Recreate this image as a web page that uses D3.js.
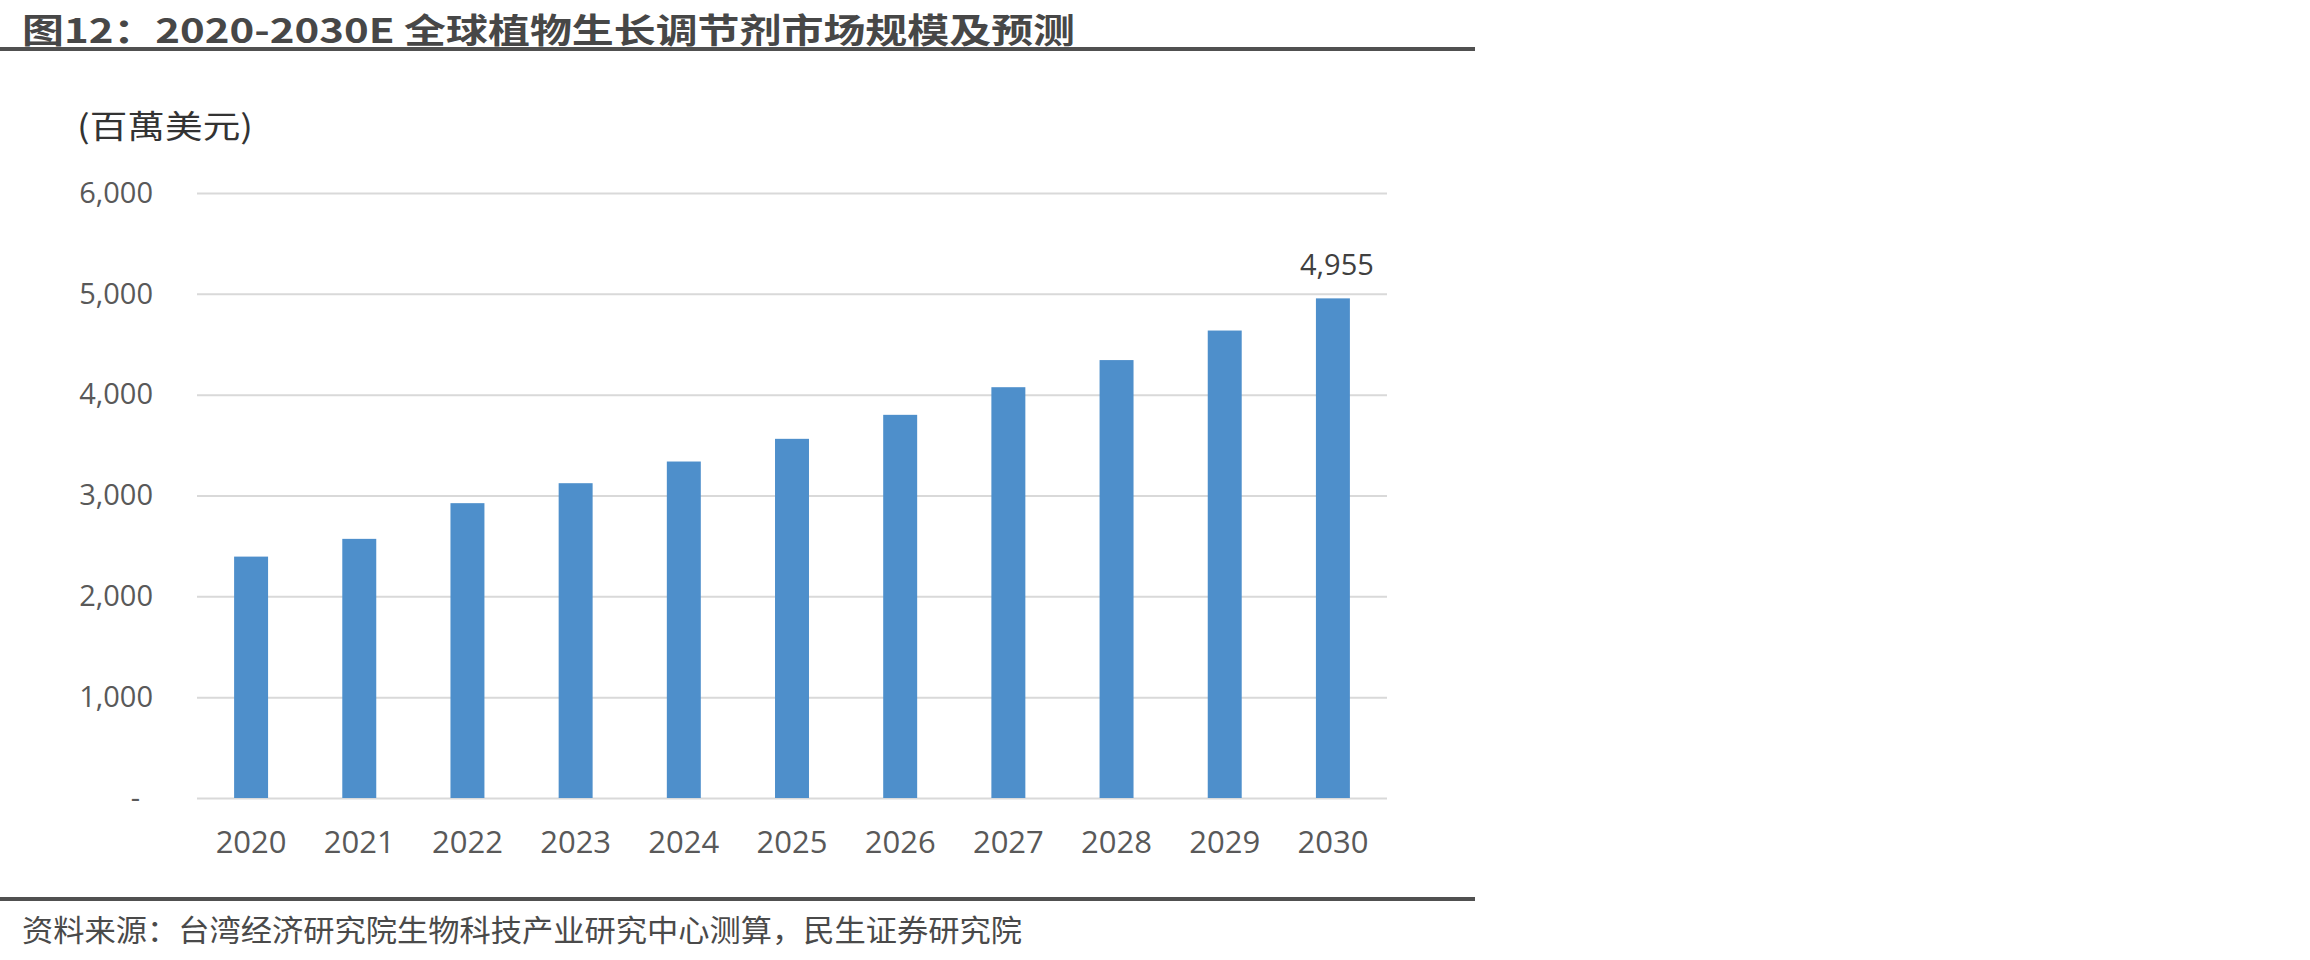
<!DOCTYPE html>
<html>
<head>
<meta charset="utf-8">
<script src="https://cdn.jsdelivr.net/npm/d3@7"></script>
<style>
  html, body { margin: 0; padding: 0; background: #fff; }
  svg { display: block; }
</style>
</head>
<body>
<svg id="chart" width="2310" height="960"></svg>
<script>
// ---- Data ----
const categories = ["2020","2021","2022","2023","2024","2025","2026","2027","2028","2029","2030"];
const values = [2394, 2570, 2924, 3122, 3337, 3562, 3800, 4074, 4343, 4636, 4955];
const yTicks = [0, 1000, 2000, 3000, 4000, 5000, 6000];
const labeledCategories = ["2030"];
const titleText = "图12：2020-2030E 全球植物生长调节剂市场规模及预测";
const unitText = "(百萬美元)";
const sourceText = "资料来源：台湾经济研究院生物科技产业研究中心测算，民生证券研究院";

const svg = d3.select("#chart");
svg.append("rect").attr("width", 2310).attr("height", 960).attr("fill", "#fff");

const CJK = "'Noto Sans CJK SC', 'Noto Sans', sans-serif";
const NUM = "'Open Sans', 'Noto Sans', sans-serif";

// Title
svg.append("text")
  .attr("x", 22).attr("y", 43)
  .attr("font-family", CJK).attr("font-weight", 700).attr("font-size", 34)
  .attr("fill", "#474747")
  .attr("textLength", 1053).attr("lengthAdjust", "spacingAndGlyphs")
  .text(titleText);
svg.append("rect").attr("x", 0).attr("y", 47).attr("width", 1475).attr("height", 4).attr("fill", "#505050");

// Footer
svg.append("rect").attr("x", 0).attr("y", 897).attr("width", 1475).attr("height", 4).attr("fill", "#505050");
svg.append("text")
  .attr("x", 22).attr("y", 941)
  .attr("font-family", CJK).attr("font-size", 30)
  .attr("fill", "#4a4a4a")
  .attr("textLength", 1000).attr("lengthAdjust", "spacingAndGlyphs")
  .text(sourceText);

// Scales
const x = d3.scaleBand().domain(categories).range([197, 1387]).paddingInner(0.686).paddingOuter(0.343);
const y = d3.scaleLinear().domain([0, 6000]).range([798, 193]);

// Unit label
svg.append("text")
  .attr("x", 77).attr("y", 138)
  .attr("font-family", CJK).attr("font-size", 32)
  .attr("fill", "#333")
  .attr("textLength", 176).attr("lengthAdjust", "spacingAndGlyphs")
  .text(unitText);

// Gridlines
const yAxis = d3.axisLeft(y).tickValues(yTicks).tickSize(-(1387 - 197)).tickPadding(44)
  .tickFormat(d => d === 0 ? "-" : d3.format(",")(d));
const gy = svg.append("g").attr("transform", "translate(197,0)").call(yAxis);
gy.select(".domain").remove();
gy.selectAll(".tick line").attr("stroke", "#d9d9d9").attr("stroke-width", 2);
gy.selectAll(".tick text")
  .attr("font-family", NUM).attr("font-size", 29).attr("fill", "#595959");
gy.selectAll(".tick text").filter(d => d === 0).attr("dx", -13);

// Bars
svg.append("g").selectAll("rect").data(categories).join("rect")
  .attr("x", d => x(d))
  .attr("width", x.bandwidth())
  .attr("y", (d, i) => y(values[i]))
  .attr("height", (d, i) => y(0) - y(values[i]))
  .attr("fill", "#4e8fcb");

// X axis labels
const xAxis = d3.axisBottom(x).tickSize(0).tickPadding(33);
const gx = svg.append("g").attr("transform", "translate(0,798)").call(xAxis);
gx.select(".domain").remove();
gx.selectAll(".tick text")
  .attr("font-family", NUM).attr("font-size", 31).attr("fill", "#595959");

// Data label
svg.append("g").selectAll("text").data(categories.filter(c => labeledCategories.includes(c))).join("text")
  .attr("x", d => x(d) + x.bandwidth() / 2 + 4)
  .attr("y", d => y(values[categories.indexOf(d)]) - 23)
  .attr("text-anchor", "middle")
  .attr("font-family", NUM).attr("font-size", 29).attr("fill", "#404040")
  .text(d => d3.format(",")(values[categories.indexOf(d)]));
</script>
</body>
</html>
